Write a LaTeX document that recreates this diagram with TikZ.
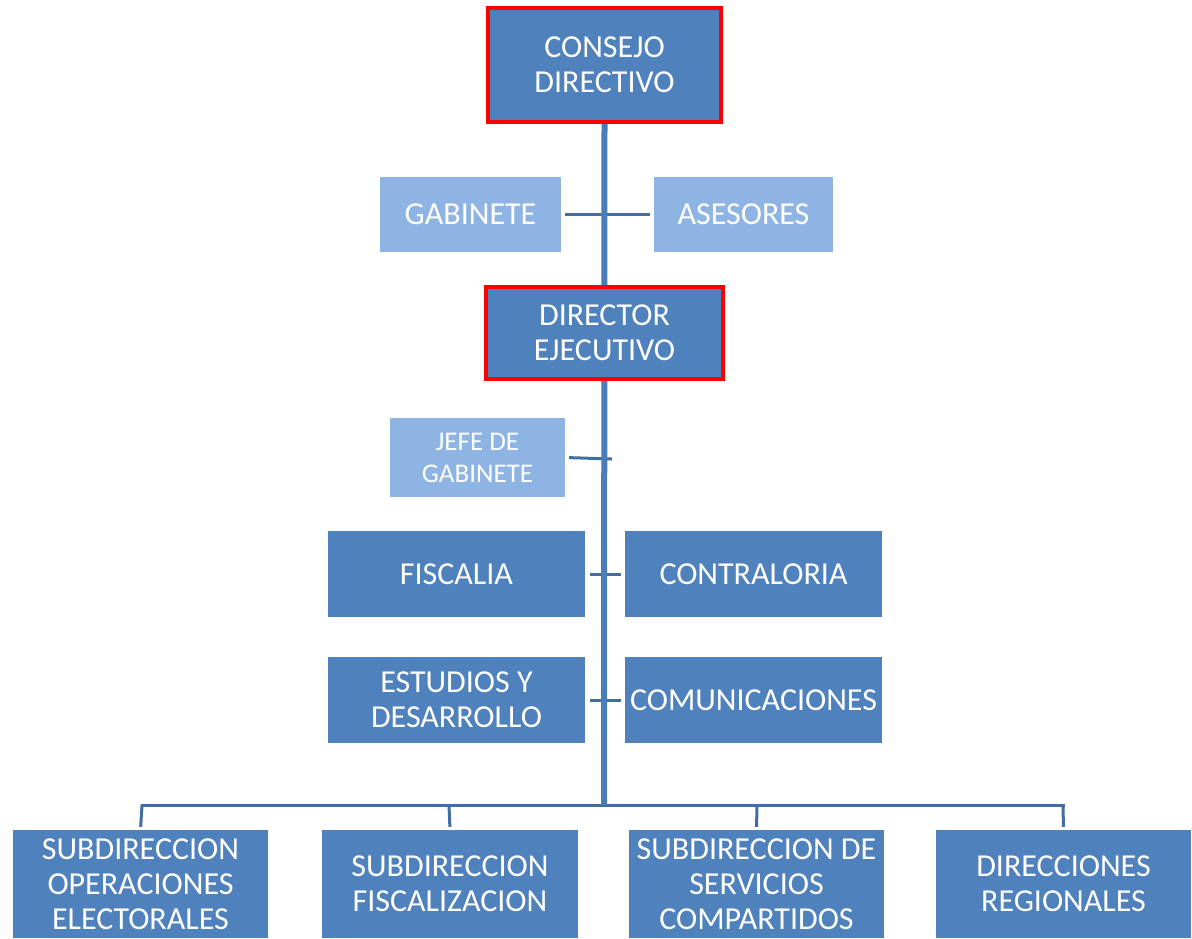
\documentclass[tikz,border=0pt]{standalone}
\usepackage{fontspec}
\setmainfont{Carlito}
\usetikzlibrary{backgrounds}
\definecolor{boxblue}{RGB}{79,129,189}
\definecolor{lightblue}{RGB}{142,180,227}
\definecolor{lineblue}{RGB}{65,110,160}
\definecolor{trunkblue}{RGB}{74,124,184}
\begin{document}
\begin{tikzpicture}[x=1pt,y=-1pt,
  box/.style={fill=boxblue,text=white,inner sep=0pt,align=center,font=\fontsize{32}{35}\selectfont},
  lbox/.style={fill=lightblue,text=white,inner sep=0pt,align=center,font=\fontsize{32}{35}\selectfont},
  redbox/.style={box,draw=red,line width=4pt},
  conn/.style={draw=lineblue,line width=3pt},
  trunk/.style={draw=trunkblue,line width=6pt}]
\useasboundingbox (0,0) rectangle (1192,938);
% nodes
\node[redbox,minimum width=233pt,minimum height=114pt] (consejo) at (604.5,65) {CONSEJO\\DIRECTIVO};
\node[lbox,minimum width=181pt,minimum height=75pt] (gab) at (470.5,214.5) {GABINETE};
\node[lbox,minimum width=179pt,minimum height=75pt] (ase) at (743.5,214.5) {ASESORES};
\node[redbox,minimum width=237pt,minimum height=92pt] (dir) at (604.5,333) {DIRECTOR\\EJECUTIVO};
\node[lbox,minimum width=175pt,minimum height=79pt,font=\fontsize{27}{32}\selectfont] (jefe) at (477.5,457.5) {JEFE DE\\GABINETE};
\node[box,minimum width=257pt,minimum height=86pt] (fis) at (456.5,574) {FISCALIA};
\node[box,minimum width=257pt,minimum height=86pt] (con) at (753.5,574) {CONTRALORIA};
\node[box,minimum width=257pt,minimum height=86pt] (est) at (456.5,700) {ESTUDIOS Y\\DESARROLLO};
\node[box,minimum width=257pt,minimum height=86pt] (com) at (753.5,700) {COMUNICACIONES};
\node[box,minimum width=255pt,minimum height=108pt] (s1) at (140.5,884) {SUBDIRECCION\\OPERACIONES\\ELECTORALES};
\node[box,minimum width=256pt,minimum height=108pt] (s2) at (450,884) {SUBDIRECCION\\FISCALIZACION};
\node[box,minimum width=255pt,minimum height=108pt] (s3) at (756.5,884) {SUBDIRECCION DE\\SERVICIOS\\COMPARTIDOS};
\node[box,minimum width=255pt,minimum height=108pt] (s4) at (1063.5,884) {DIRECCIONES\\REGIONALES};
% coordinates
\coordinate (busc) at (604,805);
\coordinate (jefeend) at (612,459);
\coordinate (b1) at (142,805);
\coordinate (b2) at (449,805);
\coordinate (b3) at (757,805);
\coordinate (b4) at (1063,805);
% connectors
\begin{scope}[on background layer]
\draw[conn,shorten <=4pt,shorten >=4pt] (gab.east) -- (ase.west);
\draw[conn,shorten <=4pt] (jefe.east) -- (jefeend);
\draw[conn,shorten <=5pt,shorten >=4pt] (fis.east) -- (con.west);
\draw[conn,shorten <=5pt,shorten >=4pt] (est.east) -- (com.west);
\draw[conn,line cap=rect] (b1) -- (b4);
\draw[conn,shorten >=3pt] (b1) -- (s1.north);
\draw[conn,shorten >=3pt] (b2) -- (s2.north);
\draw[conn,shorten >=3pt] (b3) -- (s3.north);
\draw[conn,shorten >=3pt] (b4) -- (s4.north);
\draw[trunk] (consejo.south) -- (busc);
\end{scope}
\end{tikzpicture}
\end{document}
